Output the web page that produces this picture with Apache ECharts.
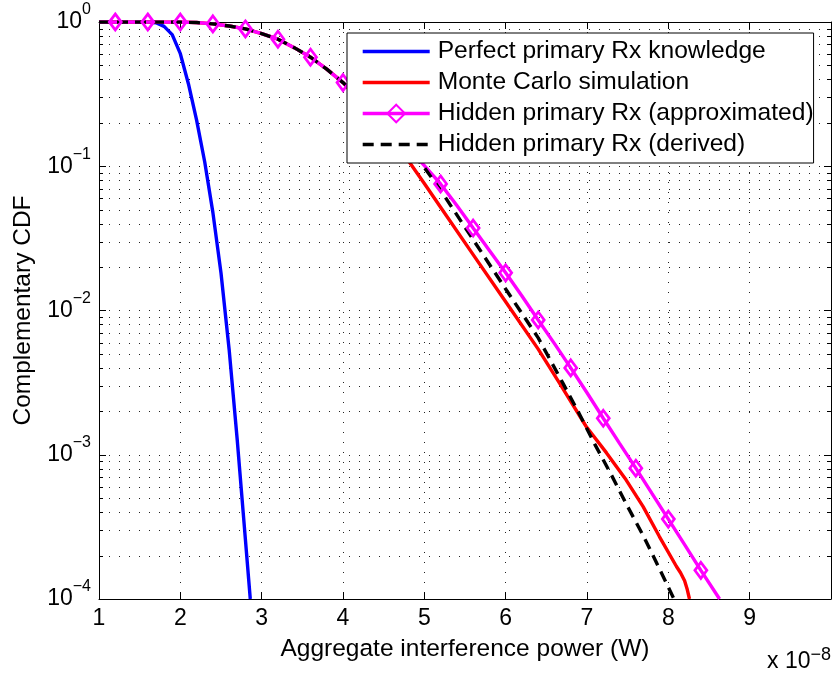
<!DOCTYPE html>
<html><head><meta charset="utf-8">
<script src="https://cdn.jsdelivr.net/npm/echarts@6/dist/echarts.min.js"></script>
<style>html,body{margin:0;padding:0;background:#fff}#c{width:834px;height:675px}</style>
</head><body><div id="c"></div>
<script>
// x values are in units of 1e-8 W
const perfectX = [1.0, 1.5, 1.6, 1.7, 1.8, 1.9, 2.0, 2.1, 2.2, 2.3, 2.4, 2.5, 2.6, 2.7, 2.78, 2.86];
const perfectY = [1, 1, 1, 0.989, 0.933, 0.818, 0.603, 0.372, 0.209, 0.107, 0.0479, 0.0182, 0.00537, 0.00126, 0.000355, 0.0001];

const monteX = [1.0, 1.8, 2.0, 2.2, 2.4, 2.6, 2.8, 3.0, 3.2, 3.4, 3.6, 3.8, 4.0, 4.2, 4.4, 4.6, 4.8, 5.0, 5.2, 5.6, 6.0, 6.4, 6.66, 6.99, 7.24, 7.48, 7.69, 7.89, 8.10, 8.15, 8.20, 8.23, 8.26];
const monteY = [1, 1, 0.999, 0.991, 0.97, 0.938, 0.895, 0.832, 0.76, 0.664, 0.57, 0.471, 0.38, 0.288, 0.215, 0.155, 0.11, 0.076, 0.052, 0.0244, 0.0115, 0.0054, 0.00315, 0.00157, 0.00103, 0.00067, 0.000437, 0.000271, 0.000168, 0.000152, 0.000134, 0.000118, 0.0001];

const approxX = [1.0, 1.2, 1.4, 1.6, 1.8, 2.0, 2.2, 2.4, 2.6, 2.8, 3.0, 3.2, 3.4, 3.6, 3.8, 4.0, 4.2, 4.4, 4.6, 4.8, 5.0, 5.2, 5.4, 5.6, 5.8, 6.0, 6.2, 6.4, 6.6, 6.8, 7.0, 7.2, 7.4, 7.6, 7.8, 8.0, 8.2, 8.4, 8.63];
const approxY = [1, 1, 1, 1, 1, 0.999, 0.991, 0.97, 0.938, 0.895, 0.832, 0.76, 0.664, 0.57, 0.471, 0.38, 0.302, 0.234, 0.18, 0.135, 0.101, 0.0754, 0.0535, 0.0373, 0.0261, 0.01824, 0.0126, 0.0086, 0.00589, 0.0040, 0.00269, 0.00179, 0.0012, 0.000807, 0.000537, 0.000358, 0.000238, 0.000158, 0.0001];
// markers sit on the approximated curve at x = 1.2, 1.6, ... 8.4
const approxMarkerX = [1.2, 1.6, 2.0, 2.4, 2.8, 3.2, 3.6, 4.0, 4.4, 4.8, 5.2, 5.6, 6.0, 6.4, 6.8, 7.2, 7.6, 8.0, 8.4];

const derivedX = [1.0, 1.8, 2.0, 2.2, 2.4, 2.6, 2.8, 3.0, 3.2, 3.4, 3.6, 3.8, 4.0, 4.2, 4.4, 4.6, 4.8, 5.0, 5.2, 5.6, 6.0, 6.4, 6.7, 6.9, 7.1, 7.3, 7.5, 7.7, 7.9, 8.07];
const derivedY = [1, 1, 0.999, 0.991, 0.97, 0.938, 0.895, 0.832, 0.76, 0.664, 0.57, 0.471, 0.38, 0.299, 0.232, 0.178, 0.133, 0.098, 0.0682, 0.031, 0.0141, 0.00646, 0.00316, 0.00195, 0.00117, 0.000724, 0.000437, 0.000269, 0.000158, 0.0001];

const seriesNames = ['Perfect primary Rx knowledge', 'Monte Carlo simulation', 'Hidden primary Rx (approximated)', 'Hidden primary Rx (derived)'];
const xTickMax = 9;
const xExponentLabel = '{b|x 10}{s|\u22128}';

const FONT = '"Liberation Sans", Arial, Helvetica, sans-serif';
const LW = 3.4;

const minorVals = [];
for (let k = -4; k <= -1; k++) for (let m = 2; m <= 9; m++) minorVals.push(+(m * Math.pow(10, k)).toPrecision(3));

const zip = (xs, ys) => xs.map((x, i) => [x, ys[i]]);
const isMarker = x => approxMarkerX.some(m => Math.abs(m - x) < 1e-9);

const chart = echarts.init(document.getElementById('c'), null, {renderer: 'canvas'});
const option = {
  animation: false,
  backgroundColor: '#fff',
  textStyle: {fontFamily: FONT},
  grid: {left: 99, right: 2, top: 22, bottom: 76, containLabel: false},
  xAxis: [{
    type: 'value', min: 1, max: 10, interval: 1,
    name: 'Aggregate interference power (W)', nameLocation: 'middle', nameGap: 38,
    nameTextStyle: {fontSize: 24.5, color: '#000', fontFamily: FONT},
    axisLine: {show: true, lineStyle: {color: '#000', width: 1}},
    axisTick: {show: true, inside: true, length: 7, lineStyle: {color: '#000'}},
    axisLabel: {fontSize: 23, color: '#000', margin: 8, fontFamily: FONT,
      formatter: v => (v > xTickMax ? '' : String(v))},
    splitLine: {show: true, lineStyle: {color: '#222', width: 1, type: [1, 9]}}
  }, {
    type: 'value', min: 1, max: 10, interval: 1, position: 'top',
    axisLine: {show: true, lineStyle: {color: '#000', width: 1}},
    axisTick: {show: true, inside: true, length: 7, lineStyle: {color: '#000'}},
    axisLabel: {show: false}, splitLine: {show: false}
  }],
  yAxis: [{
    type: 'log', logBase: 10, min: 0.0001, max: 1,
    name: 'Complementary CDF', nameLocation: 'middle', nameGap: 63,
    nameTextStyle: {fontSize: 24.5, color: '#000', fontFamily: FONT},
    axisLine: {show: true, lineStyle: {color: '#000', width: 1}},
    axisTick: {show: true, inside: true, length: 7, lineStyle: {color: '#000'}},
    axisLabel: {
      color: '#000', margin: 8, fontFamily: FONT,
      formatter: v => {
        const e = Math.round(Math.log10(v));
        return '{b|10}{s|' + (e < 0 ? '\u2212' + (-e) : String(e)) + '}';
      },
      rich: {
        b: {fontSize: 23, lineHeight: 40, fontFamily: FONT, color: '#000'},
        s: {fontSize: 16, lineHeight: 16, verticalAlign: 'top', fontFamily: FONT, color: '#000'}
      }
    },
    splitLine: {show: true, lineStyle: {color: '#222', width: 1, type: [1, 9]}}
  }, {
    type: 'log', logBase: 10, min: 0.0001, max: 1, position: 'right',
    axisLine: {show: true, lineStyle: {color: '#000', width: 1}},
    axisTick: {show: true, inside: true, length: 7, lineStyle: {color: '#000'}},
    axisLabel: {show: false}, splitLine: {show: false}
  }],
  legend: {
    orient: 'vertical', left: 347, top: 33,
    backgroundColor: '#fff', borderColor: '#000', borderWidth: 1, borderRadius: 0,
    padding: [6, 0, 6, 14], itemWidth: 67, itemHeight: 22, itemGap: 6,
    lineStyle: {width: LW},
    textStyle: {fontSize: 24.6, lineHeight: 24, color: '#000', fontFamily: FONT, padding: [0, 0, 0, 3]},
    data: [
      {name: seriesNames[0], itemStyle: {opacity: 0}},
      {name: seriesNames[1], itemStyle: {opacity: 0}},
      {name: seriesNames[2]},
      {name: seriesNames[3], itemStyle: {opacity: 0}}
    ]
  },
  graphic: [{
    type: 'text', x: 767, y: 646,
    style: {
      text: xExponentLabel, verticalAlign: 'top', fill: '#000',
      rich: {
        b: {fontSize: 23, lineHeight: 32, fontFamily: FONT, fill: '#000'},
        s: {fontSize: 18, lineHeight: 18, verticalAlign: 'top', fontFamily: FONT, fill: '#000'}
      }
    }
  }],
  series: [
    {
      type: 'custom', name: 'minorGrid', z: 1, silent: true,
      xAxisIndex: 0, yAxisIndex: 0,
      data: minorVals.map(v => [1, v]),
      renderItem: (params, api) => {
        const p = api.coord([1, api.value(1)]);
        const cs = params.coordSys;
        const y = Math.round(p[1]) + 0.5;
        return {type: 'group', children: [
          {type: 'line', shape: {x1: cs.x, y1: y, x2: cs.x + cs.width, y2: y},
           style: {stroke: '#222', lineWidth: 1, lineDash: [1, 9]}},
          {type: 'line', shape: {x1: cs.x, y1: y, x2: cs.x + 4, y2: y},
           style: {stroke: '#000', lineWidth: 1}},
          {type: 'line', shape: {x1: cs.x + cs.width - 4, y1: y, x2: cs.x + cs.width, y2: y},
           style: {stroke: '#000', lineWidth: 1}}
        ]};
      }
    },
    {
      type: 'line', name: seriesNames[0], data: zip(perfectX, perfectY),
      symbol: 'none', smooth: false,
      lineStyle: {color: '#0000ff', width: LW}, itemStyle: {color: '#0000ff'}, z: 3
    },
    {
      type: 'line', name: seriesNames[1], data: zip(monteX, monteY),
      symbol: 'none', smooth: false,
      lineStyle: {color: '#ff0000', width: LW}, itemStyle: {color: '#ff0000'}, z: 3
    },
    {
      type: 'line', name: seriesNames[2],
      data: approxX.map((x, i) => isMarker(x) ? [x, approxY[i]] : {value: [x, approxY[i]], symbol: 'none'}),
      symbol: 'diamond', symbolSize: [12, 16], showSymbol: true, showAllSymbol: true, smooth: false,
      lineStyle: {color: '#ff00ff', width: LW},
      itemStyle: {color: 'rgba(255,255,255,0)', borderColor: '#ff00ff', borderWidth: 2.8}, z: 3
    },
    {
      type: 'line', name: seriesNames[3], data: zip(derivedX, derivedY),
      symbol: 'none', smooth: false,
      lineStyle: {color: '#000000', width: LW, type: [11, 7]}, itemStyle: {color: '#000'}, z: 3
    }
  ]
};
chart.setOption(option);
</script>
</body></html>
